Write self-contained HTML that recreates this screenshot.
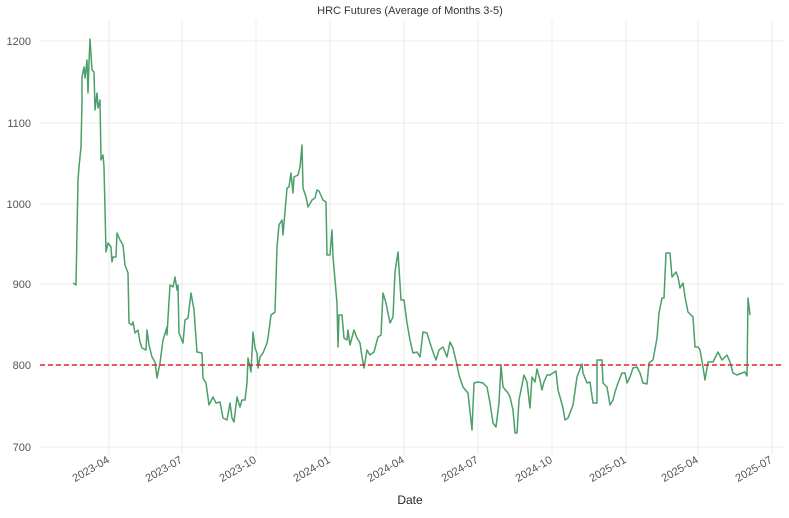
<!DOCTYPE html>
<html><head><style>body{margin:0;background:#fff}</style></head><body>
<svg width="789" height="513" viewBox="0 0 789 513" xmlns="http://www.w3.org/2000/svg" font-family="Liberation Sans, sans-serif">
<rect width="789" height="513" fill="#fff"/>
<text x="410" y="14" font-size="11" fill="#333" text-anchor="middle">HRC Futures (Average of Months 3-5)</text>
<g stroke="#ebebeb" stroke-width="1">
<line x1="40" x2="783" y1="41" y2="41"/><line x1="40" x2="783" y1="123" y2="123"/><line x1="40" x2="783" y1="204" y2="204"/><line x1="40" x2="783" y1="284" y2="284"/><line x1="40" x2="783" y1="365" y2="365"/><line x1="40" x2="783" y1="447" y2="447"/>
<line x1="109" x2="109" y1="20" y2="455"/><line x1="182" x2="182" y1="20" y2="455"/><line x1="256" x2="256" y1="20" y2="455"/><line x1="330" x2="330" y1="20" y2="455"/><line x1="404" x2="404" y1="20" y2="455"/><line x1="478" x2="478" y1="20" y2="455"/><line x1="552" x2="552" y1="20" y2="455"/><line x1="626" x2="626" y1="20" y2="455"/><line x1="698" x2="698" y1="20" y2="455"/><line x1="772" x2="772" y1="20" y2="455"/>
</g>
<g font-size="11" fill="#555" text-anchor="end">
<text x="31" y="45">1200</text><text x="31" y="127">1100</text><text x="31" y="208">1000</text><text x="31" y="288">900</text><text x="31" y="369">800</text><text x="31" y="451">700</text>
</g>
<g font-size="11" fill="#555" text-anchor="end">
<text transform="translate(110,462) rotate(-30)">2023-04</text>
<text transform="translate(183,462) rotate(-30)">2023-07</text>
<text transform="translate(257,462) rotate(-30)">2023-10</text>
<text transform="translate(331,462) rotate(-30)">2024-01</text>
<text transform="translate(405,462) rotate(-30)">2024-04</text>
<text transform="translate(479,462) rotate(-30)">2024-07</text>
<text transform="translate(553,462) rotate(-30)">2024-10</text>
<text transform="translate(627,462) rotate(-30)">2025-01</text>
<text transform="translate(699,462) rotate(-30)">2025-04</text>
<text transform="translate(773,462) rotate(-30)">2025-07</text>
</g>
<text x="410" y="504" font-size="12" fill="#222" text-anchor="middle">Date</text>
<polyline fill="none" stroke="#4c9f68" stroke-width="1.5" stroke-linejoin="round" points="73,283 76,285 78,180 79,167 81,147 82,102 82,77 84,67 85,78 87,60 88,93 89,63 90,39 92,70 94,72 95,110 97,93 98,108 100,100 101,160 103,155 104,167 106,252 108,243 111,247 112,262 113,257 116,257 117,233 120,240 123,245 125,265 128,273 129,323 132,325 133,322 135,333 138,330 140,342 142,348 146,350 147,330 149,345 152,357 155,362 157,378 160,363 163,340 167,327 167,335 170,285 173,287 175,277 177,290 178,285 179,333 183,343 185,320 188,318 191,293 194,310 197,352 202,353 203,378 206,383 209,405 213,397 216,403 220,402 223,418 227,420 230,403 232,418 234,422 237,397 240,407 242,400 245,400 247,383 248,358 251,372 253,332 255,348 257,353 258,368 260,357 263,353 267,343 268,338 271,315 275,312 277,247 279,225 282,220 283,235 286,200 287,188 289,187 291,173 293,193 294,177 298,175 300,167 302,145 303,188 306,197 308,207 312,200 315,198 317,190 319,191 323,200 326,202 327,255 330,255 332,230 333,257 335,280 337,303 338,347 339,315 342,315 344,338 347,340 348,330 350,345 354,330 357,338 360,343 362,357 364,368 367,350 370,355 374,352 378,337 381,335 383,293 386,303 390,323 393,317 395,272 398,252 401,300 404,300 407,323 410,340 413,353 417,352 420,357 423,332 427,333 430,343 433,352 436,360 439,350 443,347 447,357 450,342 453,348 457,365 459,375 463,387 468,393 472,430 474,383 478,382 483,383 487,387 490,403 493,423 496,427 499,403 501,365 503,387 508,393 510,397 513,410 515,433 517,433 519,400 524,375 527,382 530,408 532,377 535,382 537,369 540,380 542,390 544,382 547,375 550,375 553,373 556,371 558,390 560,397 563,408 565,420 568,418 570,413 573,405 577,377 582,364 583,373 587,383 590,382 593,403 597,403 597,360 602,360 603,383 607,387 610,405 613,400 615,392 618,383 622,373 625,373 627,383 630,377 633,368 637,367 640,373 643,383 647,384 649,363 653,360 657,338 659,313 662,298 664,298 666,253 670,253 672,277 676,272 678,277 680,288 683,283 685,297 688,312 693,317 695,347 698,347 700,350 703,367 705,380 708,362 713,362 718,352 722,360 727,355 730,362 733,373 737,375 742,373 745,372 747,376 748,298 750,315"/>
<line x1="40" x2="783" y1="365" y2="365" stroke="#e8202a" stroke-width="1.5" stroke-dasharray="5,3"/>
</svg>
</body></html>
